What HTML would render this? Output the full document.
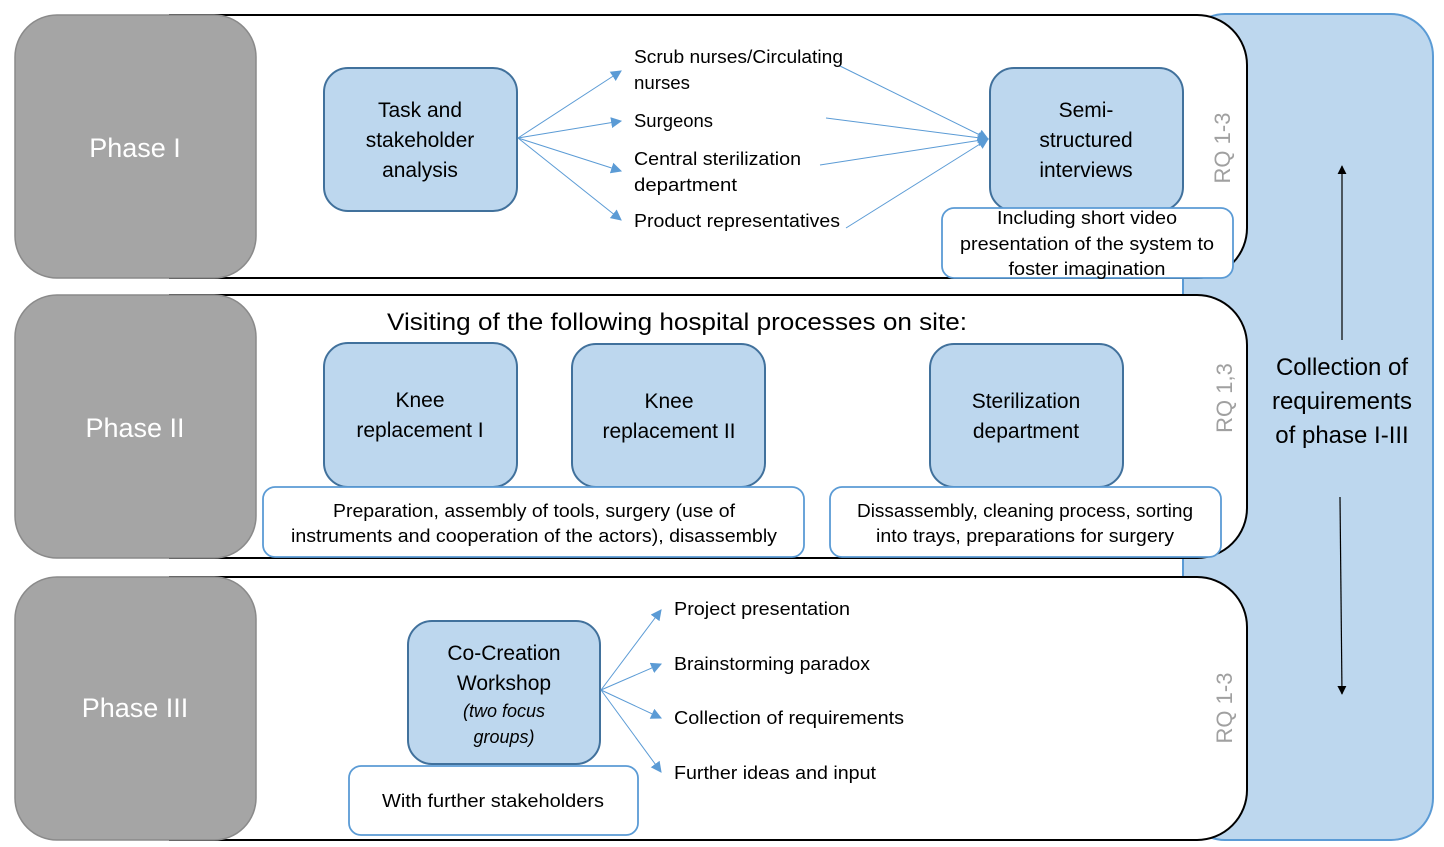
<!DOCTYPE html>
<html><head><meta charset="utf-8"><style>
html,body{margin:0;padding:0;background:#fff;}
svg{display:block;}
text{font-family:"Liberation Sans",sans-serif;}
</style></head><body>
<svg width="1444" height="847" viewBox="0 0 1444 847" xmlns="http://www.w3.org/2000/svg">
<defs>
<marker id="ab" viewBox="0 0 10 10" refX="9" refY="5" markerWidth="11" markerHeight="11" orient="auto" markerUnits="userSpaceOnUse"><path d="M0,0 L10,5 L0,10 z" fill="#5b9bd5"/></marker>
<marker id="ak" viewBox="0 0 10 10" refX="9" refY="5" markerWidth="9" markerHeight="9" orient="auto" markerUnits="userSpaceOnUse"><path d="M0,0 L10,5 L0,10 z" fill="#000"/></marker>
</defs>
<rect x="1183" y="14" width="250" height="826" rx="42" fill="#bdd7ee" stroke="#5b9bd5" stroke-width="2"/>
<g fill="#fff" stroke="#000" stroke-width="2">
<path d="M170,15 H1197 A50,50 0 0 1 1247,65 V228 A50,50 0 0 1 1197,278 H170 Z"/>
<path d="M170,295 H1197 A50,50 0 0 1 1247,345 V508 A50,50 0 0 1 1197,558 H170 Z"/>
<path d="M170,577 H1197 A50,50 0 0 1 1247,627 V790 A50,50 0 0 1 1197,840 H170 Z"/>
</g>
<g fill="#a5a5a5" stroke="#8a8a8a" stroke-width="1.5">
<rect x="15" y="15" width="241" height="263" rx="42"/>
<rect x="15" y="295" width="241" height="263" rx="42"/>
<rect x="15" y="577" width="241" height="263" rx="42"/>
</g>
<g fill="#fff" font-size="27" text-anchor="middle">
<text x="135" y="157">Phase I</text>
<text x="135" y="437">Phase II</text>
<text x="135" y="717">Phase III</text>
</g>
<g fill="#bdd7ee" stroke="#41719c" stroke-width="2">
<rect x="324" y="68" width="193" height="143" rx="24"/>
<rect x="990" y="68" width="193" height="143" rx="24"/>
<rect x="324" y="343" width="193" height="144" rx="24"/>
<rect x="572" y="344" width="193" height="143" rx="24"/>
<rect x="930" y="344" width="193" height="143" rx="24"/>
<rect x="408" y="621" width="192" height="143" rx="24"/>
</g>
<g fill="#fff" stroke="#5b9bd5" stroke-width="1.8">
<rect x="942" y="208" width="291" height="70" rx="12"/>
<rect x="263" y="487" width="541" height="70" rx="12"/>
<rect x="830" y="487" width="391" height="70" rx="12"/>
<rect x="349" y="766" width="289" height="69" rx="12"/>
</g>
<g font-size="21" text-anchor="middle" fill="#000">
<text x="420" y="117">Task and</text>
<text x="420" y="147">stakeholder</text>
<text x="420" y="177">analysis</text>
<text x="1086" y="117">Semi-</text>
<text x="1086" y="147">structured</text>
<text x="1086" y="177">interviews</text>
<text x="420" y="407">Knee</text>
<text x="420" y="437">replacement I</text>
<text x="669" y="408">Knee</text>
<text x="669" y="438">replacement II</text>
<text x="1026" y="408">Sterilization</text>
<text x="1026" y="438">department</text>
<text x="504" y="660">Co-Creation</text>
<text x="504" y="690">Workshop</text>
<text x="504" y="717" font-size="18" font-style="italic">(two focus</text>
<text x="504" y="743" font-size="18" font-style="italic">groups)</text>
<text x="677" y="330" font-size="24" textLength="580" lengthAdjust="spacingAndGlyphs">Visiting of the following hospital processes on site:</text>
</g>
<g font-size="18" text-anchor="middle" fill="#000">
<text x="1087" y="224" textLength="180" lengthAdjust="spacingAndGlyphs">Including short video</text>
<text x="1087" y="250" textLength="254" lengthAdjust="spacingAndGlyphs">presentation of the system to</text>
<text x="1087" y="275" textLength="157" lengthAdjust="spacingAndGlyphs">foster imagination</text>
<text x="534" y="517" textLength="402" lengthAdjust="spacingAndGlyphs">Preparation, assembly of tools, surgery (use of</text>
<text x="534" y="542" textLength="486" lengthAdjust="spacingAndGlyphs">instruments and cooperation of the actors), disassembly</text>
<text x="1025" y="517" textLength="336" lengthAdjust="spacingAndGlyphs">Dissassembly, cleaning process, sorting</text>
<text x="1025" y="542" textLength="298" lengthAdjust="spacingAndGlyphs">into trays, preparations for surgery</text>
<text x="493" y="807" textLength="222" lengthAdjust="spacingAndGlyphs">With further stakeholders</text>
</g>
<g font-size="18" fill="#000">
<text x="634" y="63" textLength="209" lengthAdjust="spacingAndGlyphs">Scrub nurses/Circulating</text>
<text x="634" y="89" textLength="56" lengthAdjust="spacingAndGlyphs">nurses</text>
<text x="634" y="127" textLength="79" lengthAdjust="spacingAndGlyphs">Surgeons</text>
<text x="634" y="165" textLength="167" lengthAdjust="spacingAndGlyphs">Central sterilization</text>
<text x="634" y="191" textLength="103" lengthAdjust="spacingAndGlyphs">department</text>
<text x="634" y="227" textLength="206" lengthAdjust="spacingAndGlyphs">Product representatives</text>
<text x="674" y="615" textLength="176" lengthAdjust="spacingAndGlyphs">Project presentation</text>
<text x="674" y="670" textLength="196" lengthAdjust="spacingAndGlyphs">Brainstorming paradox</text>
<text x="674" y="724" textLength="230" lengthAdjust="spacingAndGlyphs">Collection of requirements</text>
<text x="674" y="779" textLength="202" lengthAdjust="spacingAndGlyphs">Further ideas and input</text>
</g>
<g stroke="#5b9bd5" stroke-width="1" fill="none" marker-end="url(#ab)">
<line x1="518" y1="138" x2="621" y2="71"/>
<line x1="518" y1="138" x2="621" y2="121"/>
<line x1="518" y1="138" x2="621" y2="171"/>
<line x1="518" y1="138" x2="621" y2="220"/>
<line x1="840" y1="66" x2="988" y2="139"/>
<line x1="826" y1="118" x2="988" y2="139"/>
<line x1="820" y1="165" x2="988" y2="139"/>
<line x1="846" y1="228" x2="988" y2="139"/>
<line x1="601" y1="690" x2="661" y2="610"/>
<line x1="601" y1="690" x2="661" y2="664"/>
<line x1="601" y1="690" x2="661" y2="718"/>
<line x1="601" y1="690" x2="661" y2="772"/>
</g>
<g stroke="#000" stroke-width="1.2" marker-end="url(#ak)">
<line x1="1342" y1="340" x2="1342" y2="166"/>
<line x1="1340" y1="497" x2="1342" y2="694"/>
</g>
<g font-size="24" text-anchor="middle" fill="#000">
<text x="1342" y="375">Collection of</text>
<text x="1342" y="409">requirements</text>
<text x="1342" y="443">of phase I-III</text>
</g>
<g font-size="22" fill="#a0a0a0" text-anchor="middle">
<text transform="translate(1230,148) rotate(-90)">RQ 1-3</text>
<text transform="translate(1232,398) rotate(-90)">RQ 1,3</text>
<text transform="translate(1232,708) rotate(-90)">RQ 1-3</text>
</g>
</svg>
</body></html>
